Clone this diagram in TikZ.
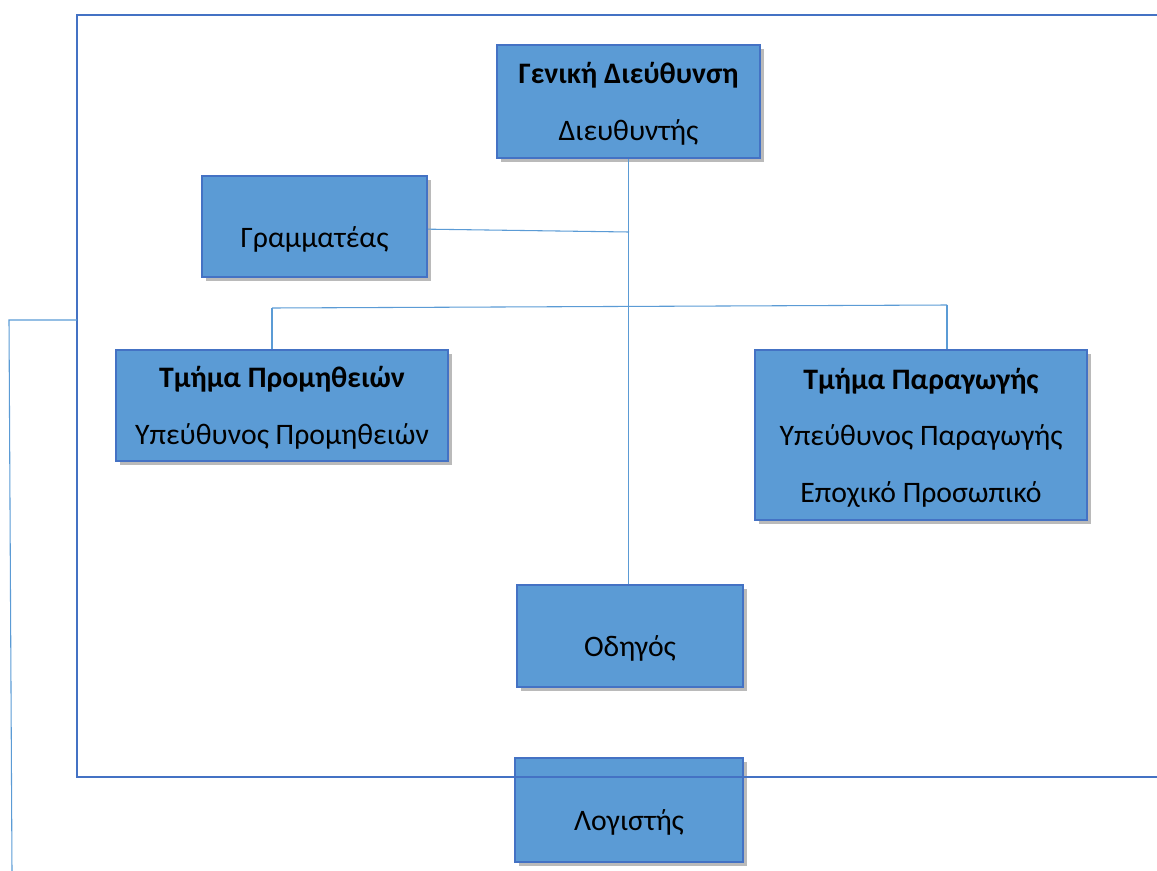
\documentclass[tikz,border=0pt]{standalone}
\usepackage{fontspec}
\setmainfont{Carlito}
\usetikzlibrary{shadows}
\definecolor{boxfill}{RGB}{91,155,213}
\definecolor{boxline}{RGB}{68,114,196}
\definecolor{wire}{RGB}{91,155,213}

\begin{document}
\begin{tikzpicture}[x=0.75pt,y=0.75pt,yscale=-1,xscale=1,
  unit/.style={draw=boxline,line width=1.5pt,fill=boxfill,align=center,inner sep=0pt,
    font=\fontsize{22.3}{42.4}\selectfont,text depth=-1pt,
    drop shadow={shadow xshift=3pt,shadow yshift=-3pt,opacity=0.45,fill=black!60}},
  solo/.style={text height=31pt,text depth=0pt},
  link/.style={draw=wire,line width=0.8pt},
  frame/.style={draw=boxline,line width=1.6pt}]
\useasboundingbox (0,0) rectangle (1157,871);
% boxes
\node [unit,minimum width=197.25pt,minimum height=84.75pt] (gen) at (628.5,101.5) {\textbf{Γενική Διεύθυνση}\\Διευθυντής};
\node [unit,solo,minimum width=168.75pt,minimum height=75.75pt] (gram) at (314.5,226.5) {Γραμματέας};
\node [unit,minimum width=249pt,minimum height=83.25pt] (prom) at (282,405.5) {\textbf{Τμήμα Προμηθειών}\\Υπεύθυνος Προμηθειών};
\node [unit,minimum width=249pt,minimum height=127.5pt] (parag) at (921,435) {\textbf{Τμήμα Παραγωγής}\\Υπεύθυνος Παραγωγής\\Εποχικό Προσωπικό};
\node [unit,solo,minimum width=169.5pt,minimum height=76.5pt] (odigos) at (630,636) {Οδηγός};
\node [unit,solo,minimum width=171pt,minimum height=78pt] (logist) at (629,810) {Λογιστής};
% connectors
\coordinate (gtap) at (629,232);
\coordinate (busL) at (272,308);
\coordinate (busR) at (947,305);
\draw [link] (gen.south) -- (gen.south |- odigos.north);
\draw [link] ([yshift=2pt]gram.east) -- (gtap);
\draw [link] (busL) -- (busR);
\draw [link] (busL) -- (busL |- prom.north);
\draw [link] (busR) -- (busR |- parag.north);
% outer frame
\coordinate (ftr) at (1157,15);
\coordinate (ftl) at (77,15);
\coordinate (fbl) at (77,777);
\coordinate (fbr) at (1157,777);
\draw [frame] (ftr) -- (ftl) -- (fbl) -- (fbr);
\coordinate (tap) at (77,320);
\coordinate (corner) at (9,320);
\coordinate (tail) at (12,871);
\draw [link] (tap) -- (corner) -- (tail);
\end{tikzpicture}
\end{document}
